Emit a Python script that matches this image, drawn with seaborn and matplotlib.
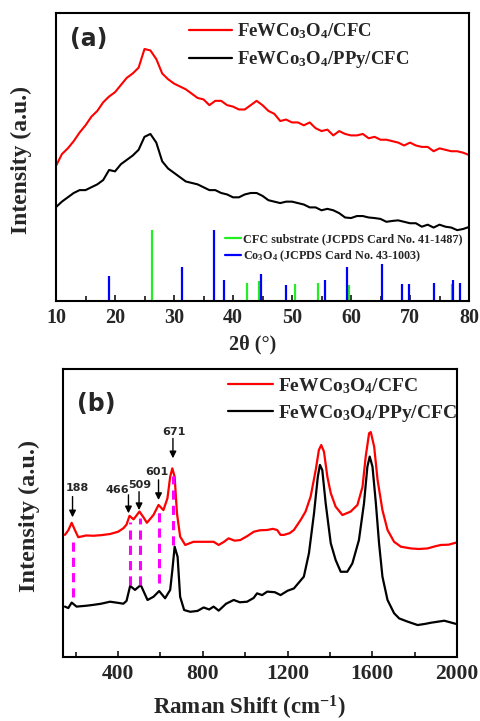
import matplotlib
matplotlib.use("Agg")
import matplotlib.pyplot as plt
import seaborn as sns
import numpy as np
import pandas as pd
from matplotlib.lines import Line2D

# ---------------- data: XRD (panel a) ----------------
xrd_2theta = list(range(10, 81))
xrd_cfc = [46.9, 51, 53, 55.5, 58.5, 61, 64, 66, 69, 71, 72.5, 75, 77.5, 79, 81, 87.5, 87, 84, 79, 77,
           75.5, 74.5, 73.5, 72, 70.5, 70, 68, 69.5, 69.5, 68, 67.5, 66.5, 66.5, 68, 69.5, 68, 66, 65,
           62.5, 63, 62, 62, 61, 62, 60, 59, 59.5, 57.5, 59, 58, 57.5, 57.5, 58, 56.5, 57, 56, 56, 55.5,
           55, 54, 55, 54, 53.5, 53.5, 52, 53, 52.5, 52, 52, 51.5, 50.7]
xrd_ppy = [32.6, 34.5, 36, 37.5, 38.5, 38.5, 39.5, 40.5, 42, 45.5, 45, 47.5, 49, 50.5, 52.5, 57, 58, 55,
           48.5, 46, 44.5, 43, 41.5, 41, 40.5, 39.5, 38.5, 38.5, 37.5, 37, 36, 36, 37, 37.5, 37.5, 36.5,
           35, 34.5, 34, 34.5, 34.5, 34, 33.5, 32.5, 32.5, 31.5, 32, 31.5, 30.5, 29, 28.8, 29.5, 29.5,
           29, 28.8, 28.5, 27.5, 27.8, 28, 27.5, 27, 27, 25.8, 26.5, 25.5, 26.5, 25.8, 25.5, 24.6, 25, 25.7]

cfc_ref_pos = [26.3, 42.3, 44.4, 50.5, 54.4, 59.7, 77.1]
cfc_ref_h = [24.6, 6.3, 6.8, 5.8, 6.4, 5.7, 5.8]
co3o4_ref_pos = [19.0, 31.4, 36.8, 38.5, 44.7, 49.0, 55.6, 59.3, 65.2, 68.6, 69.8, 74.1, 77.3, 78.4]
co3o4_ref_h = [8.7, 11.7, 24.6, 7.2, 9.3, 5.7, 7.2, 11.7, 12.7, 5.8, 5.8, 6.2, 7.2, 6.4]

# ---------------- data: Raman (panel b) ----------------
raman_x_cfc = [149, 165, 181, 196, 212, 250, 283, 320, 362, 400, 425, 440, 454, 473, 501, 520, 536, 567,
               591, 614, 633, 646, 656, 667, 678, 693, 717, 756, 788, 820, 851, 875, 900, 922, 950, 977,
               1010, 1041, 1070, 1104, 1130, 1151, 1167, 1183, 1210, 1230, 1262, 1285, 1309, 1333, 1348,
               1359, 1372, 1388, 1404, 1427, 1459, 1498, 1530, 1554, 1569, 1585, 1593, 1609, 1625, 1648,
               1672, 1703, 1735, 1782, 1820, 1861, 1900, 1924, 1960, 1995]
raman_y_cfc = [42.4, 44.0, 46.6, 44.1, 41.6, 42.2, 42.1, 42.3, 42.7, 43.5, 44.7, 46.0, 49.0, 47.8, 50.5,
               48.5, 46.6, 49.3, 52.8, 51.0, 55.1, 62.6, 65.5, 62.6, 49.9, 41.8, 38.9, 40.0, 40.0, 40.0,
               40.0, 38.9, 40.0, 41.2, 40.4, 40.6, 42.0, 43.5, 44.0, 44.1, 44.5, 44.1, 42.4, 42.4, 43.0,
               44.1, 47.6, 50.5, 55.7, 64.9, 71.9, 73.6, 71.3, 62.6, 56.9, 52.2, 49.3, 50.5, 52.8, 59.1,
               69.6, 77.7, 78.1, 73.0, 61.5, 51.0, 44.1, 40.0, 38.3, 37.7, 37.5, 37.7, 38.5, 38.9, 39.0,
               39.7]
raman_x_ppy = [149, 165, 181, 204, 250, 283, 320, 362, 400, 425, 440, 457, 480, 507, 539, 567, 594, 622,
               646, 656, 667, 681, 693, 712, 741, 775, 804, 830, 851, 875, 910, 946, 975, 1009, 1040, 1056,
               1080, 1104, 1140, 1167, 1200, 1230, 1277, 1301, 1325, 1343, 1353, 1364, 1380, 1404, 1427,
               1451, 1482, 1506, 1537, 1561, 1577, 1588, 1601, 1617, 1632, 1648, 1672, 1703, 1727, 1766,
               1814, 1850, 1877, 1940, 1970, 1995]
raman_y_ppy = [17.5, 17.0, 18.9, 17.5, 17.8, 18.1, 18.5, 19.2, 18.8, 18.5, 19.5, 24.7, 23.3, 25.0, 19.8,
               20.9, 22.9, 20.4, 23.3, 30.0, 38.3, 34.8, 20.9, 16.3, 15.7, 16.0, 17.2, 16.5, 17.5, 16.1,
               18.5, 19.8, 19.0, 19.2, 20.5, 22.1, 21.5, 22.7, 22.5, 21.5, 23.0, 23.8, 27.9, 36.0, 49.9,
               62.6, 66.7, 64.9, 53.4, 39.5, 33.7, 29.6, 29.6, 32.5, 40.6, 53.4, 66.1, 69.6, 66.1, 53.4,
               39.5, 27.9, 19.8, 15.2, 13.4, 12.3, 11.1, 11.5, 11.9, 12.6, 12.0, 11.5]

peak_labels = ["188", "466", "509", "601", "671"]
dash_x = [185, 457, 504, 594, 659]
dash_top = [40.0, 47.0, 48.1, 50.5, 63.0]
dash_bot = [20.9, 25.0, 25.0, 25.6, 38.9]
arrow_x = [185, 449, 499, 591, 659]
arrow_top = [55.7, 56.3, 57.4, 61.5, 75.9]
arrow_bot = [48.5, 49.9, 51.0, 54.5, 69.0]
label_x = [207, 397, 504, 583, 662]
label_y = [58.6, 58.0, 59.7, 64.3, 78.0]

# ---------------- style ----------------
sns.set_style("ticks")
plt.rcParams['font.family'] = ['Liberation Serif', 'DejaVu Serif']
plt.rcParams['font.weight'] = 'bold'
plt.rcParams['mathtext.fontset'] = 'custom'
plt.rcParams['mathtext.rm'] = 'Liberation Serif:bold'
plt.rcParams['mathtext.it'] = 'Liberation Serif:bold'
plt.rcParams['mathtext.bf'] = 'Liberation Serif:bold'
plt.rcParams['mathtext.default'] = 'rm'

RED = '#FF0000'
GREEN = '#22EE22'
BLUE = '#0000FF'
MAG = '#FF00FF'

fig = plt.figure(figsize=(4.8, 7.21), dpi=100)
ax1 = fig.add_axes([56/480, 420/721, 413/480, 288/721])
ax2 = fig.add_axes([63/480, 64/721, 394/480, 288/721])

lab1 = r'FeWCo$_3$O$_4$/CFC'
lab2 = r'FeWCo$_3$O$_4$/PPy/CFC'

# ---- panel a ----
df_a = pd.DataFrame({'x': xrd_2theta, 'cfc': xrd_cfc, 'ppy': xrd_ppy})
sns.lineplot(data=df_a, x='x', y='cfc', color=RED, lw=1.5, ax=ax1, legend=False)
sns.lineplot(data=df_a, x='x', y='ppy', color='black', lw=1.5, ax=ax1, legend=False)
ax1.vlines(cfc_ref_pos, 0, cfc_ref_h, color=GREEN, lw=1.6)
ax1.vlines(co3o4_ref_pos, 0, co3o4_ref_h, color=BLUE, lw=1.6)
ax1.set_xlim(10, 80)
ax1.set_ylim(0, 100)
ax1.set_xticks(range(10, 81, 10))
ax1.set_xticks(range(15, 80, 10), minor=True)
ax1.set_yticks([])

h_main = [Line2D([], [], color=RED, lw=1.6), Line2D([], [], color='black', lw=1.6)]
leg1 = ax1.legend(h_main, [lab1, lab2], loc='upper left', bbox_to_anchor=(0.322, 0.972),
                  frameon=False, fontsize=13.5, handlelength=2.3, handletextpad=0.25,
                  labelspacing=0.45, borderpad=0, borderaxespad=0)
ax1.add_artist(leg1)
h_ref = [Line2D([], [], color=GREEN, lw=1.6), Line2D([], [], color=BLUE, lw=1.6)]
ax1.legend(h_ref, ['CFC substrate (JCPDS Card No. 41-1487)', r'Co$_3$O$_4$ (JCPDS Card No. 43-1003)'],
           loc='upper left', bbox_to_anchor=(0.41, 0.235), frameon=False, fontsize=8.7,
           handlelength=1.3, handletextpad=0.2, labelspacing=0.25, borderpad=0, borderaxespad=0)
ax1.text(0.035, 0.91, '(a)', transform=ax1.transAxes, fontsize=17, fontweight='bold',
         family='DejaVu Sans', va='center', ha='left')
ax1.set_xlabel('2θ (°)', fontsize=14.5, fontweight='bold')
ax1.set_ylabel('Intensity (a.u.)', fontsize=17, fontweight='bold')
ax1.xaxis.set_label_coords(0.476, -0.115)
ax1.yaxis.set_label_coords(-0.058, 0.49)

# ---- panel b ----
df_b1 = pd.DataFrame({'x': raman_x_cfc, 'y': raman_y_cfc})
df_b2 = pd.DataFrame({'x': raman_x_ppy, 'y': raman_y_ppy})
sns.lineplot(data=df_b1, x='x', y='y', color=RED, lw=1.6, ax=ax2, legend=False)
sns.lineplot(data=df_b2, x='x', y='y', color='black', lw=1.6, ax=ax2, legend=False)
ax2.vlines(dash_x, dash_bot, dash_top, color=MAG, lw=2.2, linestyles=(0, (3, 2)))
for ax_, at, ab in zip(arrow_x, arrow_top, arrow_bot):
    ax2.annotate('', xy=(ax_, ab), xytext=(ax_, at),
                 arrowprops=dict(arrowstyle='-|>', color='black', lw=1.0, mutation_scale=10,
                                 shrinkA=0, shrinkB=0))
for lx, ly, t in zip(label_x, label_y, peak_labels):
    ax2.text(lx, ly, t, fontsize=8, fontweight='bold', family='DejaVu Sans', ha='center', va='center')
ax2.set_xlim(140, 2000)
ax2.set_ylim(0, 100)
ax2.set_xticks(range(400, 2001, 400))
ax2.set_xticks(range(200, 2000, 400), minor=True)
ax2.set_yticks([])
ax2.legend(h_main, [lab1, lab2], loc='upper left', bbox_to_anchor=(0.42, 0.975),
           frameon=False, fontsize=14, handlelength=2.3, handletextpad=0.25,
           labelspacing=0.35, borderpad=0, borderaxespad=0)
ax2.text(0.035, 0.88, '(b)', transform=ax2.transAxes, fontsize=17, fontweight='bold',
         family='DejaVu Sans', va='center', ha='left')
ax2.set_xlabel('Raman Shift (cm$^{-1}$)', fontsize=16.5, fontweight='bold')
ax2.set_ylabel('Intensity (a.u.)', fontsize=17.5, fontweight='bold')
ax2.xaxis.set_label_coords(0.473, -0.127)
ax2.yaxis.set_label_coords(-0.058, 0.49)

for ax, ls in ((ax1, 14.5), (ax2, 15.5)):
    for s in ax.spines.values():
        s.set_linewidth(1.5)
        s.set_color('black')
    ax.tick_params(axis='x', which='both', direction='in', bottom=True, top=False,
                   labelsize=ls, width=1.3, pad=5)
    ax.tick_params(axis='x', which='major', length=4)
    ax.tick_params(axis='x', which='minor', length=3.5)
    for lbl in ax.get_xticklabels():
        lbl.set_fontweight('bold')

fig.savefig('out.png', dpi=100)
